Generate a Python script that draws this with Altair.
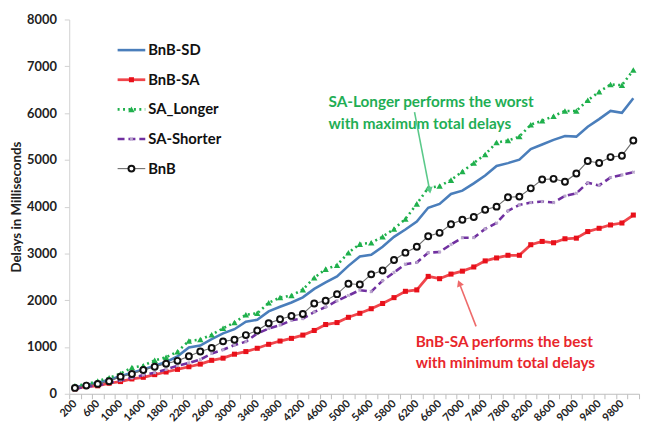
import altair as alt
import pandas as pd

# ---------------- data ----------------
loads = list(range(200, 10001, 200))

bnb_sd = [140, 185, 235, 300, 375, 450, 520, 600, 680, 800,
          990, 1030, 1170, 1290, 1380, 1540, 1580, 1760, 1860, 1950,
          2060, 2241, 2382, 2509, 2734, 2935, 2970, 3143, 3355, 3510,
          3679, 3975, 4059, 4271, 4341, 4497, 4666, 4870, 4930, 5004,
          5229, 5328, 5427, 5511, 5497, 5708, 5871, 6046, 6004, 6315]

bnb_sa = [105, 155, 170, 225, 261, 317, 352, 409, 465, 521,
          578, 634, 715, 761, 846, 902, 972, 1057, 1127, 1184,
          1254, 1353, 1480, 1522, 1634, 1720, 1818, 1930, 2055, 2190,
          2220, 2509, 2460, 2558, 2621, 2710, 2840, 2903, 2960, 2960,
          3186, 3256, 3228, 3313, 3326, 3467, 3537, 3608, 3650, 3820]

sa_longer = [170, 205, 270, 340, 430, 560, 600, 715, 780, 900,
             1130, 1160, 1260, 1400, 1522, 1691, 1719, 1945, 2057, 2100,
             2226, 2480, 2664, 2748, 3016, 3199, 3228, 3355, 3524, 3735,
             4059, 4400, 4440, 4567, 4750, 4932, 5116, 5370, 5412, 5497,
             5751, 5835, 5934, 6046, 6046, 6273, 6455, 6611, 6596, 6920]

sa_shorter = [110, 150, 180, 230, 290, 340, 400, 450, 520, 600,
              660, 730, 860, 940, 1042, 1113, 1289, 1395, 1465, 1571,
              1607, 1748, 1854, 1987, 2100, 2215, 2184, 2417, 2594, 2770,
              2805, 3016, 3030, 3192, 3334, 3334, 3524, 3651, 3910, 4038,
              4087, 4108, 4087, 4228, 4285, 4510, 4454, 4623, 4679, 4736]

bnb = [125, 175, 211, 268, 366, 423, 507, 578, 641, 704,
       803, 902, 980, 1120, 1156, 1254, 1353, 1508, 1592, 1664,
       1706, 1930, 1987, 2129, 2353, 2335, 2552, 2636, 2860, 3016,
       3143, 3368, 3440, 3622, 3721, 3778, 3932, 4000, 4200, 4214,
       4391, 4581, 4594, 4531, 4708, 4975, 4932, 5059, 5089, 5412]

series_names = ["BnB-SD", "BnB-SA", "SA_Longer", "SA-Shorter", "BnB"]
series_values = [bnb_sd, bnb_sa, sa_longer, sa_shorter, bnb]

y_ticks = list(range(0, 8001, 1000))

# annotations (data coordinates)
green_note = ["SA-Longer performs the worst", "with maximum total delays"]
red_note = ["BnB-SA performs the best", "with minimum total delays"]

rows = []
for name, vals in zip(series_names, series_values):
    for x, v in zip(loads, vals):
        rows.append({"series": name, "load": x, "delay": v})
df = pd.DataFrame(rows)

# ---------------- layout ----------------
W, H = 577, 379
FONT = "Lato"
step = W / len(loads)
boundaries = list(range(100, 10101, 200))

x_axis = alt.Axis(
    values=boundaries,
    labelExpr="(datum.value - 100) % 400 == 0 && datum.value < 10000 ? toString(datum.value + 100) : ''",
    labelOffset=step / 2,
    labelAngle=-45,
    labelAlign="right",
    labelBaseline="middle",
    labelOverlap=False,
    labelFont=FONT,
    labelFontSize=11,
    labelFontWeight="bold",
    labelColor="#222222",
    labelPadding=3,
    tickSize=5,
    tickColor="#bdbdbd",
    domainColor="#bdbdbd",
    grid=False,
    title=None,
)
y_axis = alt.Axis(
    values=y_ticks,
    format="d",
    title="Delays in Milliseconds",
    titleFont=FONT,
    titleFontSize=13.5,
    titleFontWeight="bold",
    titleColor="#222222",
    titlePadding=3,
    labelFont=FONT,
    labelFontSize=13,
    labelFontWeight="bold",
    labelColor="#222222",
    labelPadding=8,
    tickSize=5,
    tickColor="#d0d0d0",
    domainColor="#d0d0d0",
    grid=False,
)
xscale = alt.Scale(domain=[100, 10100], nice=False, zero=False)
yscale = alt.Scale(domain=[0, 8000], nice=False)
X = alt.X("load:Q", scale=xscale, axis=x_axis)
Y = alt.Y("delay:Q", scale=yscale, axis=y_axis)

styles = {
    "BnB-SD": dict(color="#4a7ebb", width=2.6, dash=None, marker=None),
    "BnB-SA": dict(color="#f0454b", width=2.8, dash=None,
                   marker=dict(shape="square", size=26, filled=True, color="#e8101a")),
    "SA_Longer": dict(color="#1fb04c", width=2.6, dash=[2, 3.5],
                      marker=dict(shape="triangle-up", size=42, filled=True, color="#1fb04c")),
    "SA-Shorter": dict(color="#7030a0", width=2.6, dash=[7, 4],
                       marker=dict(shape="cross", size=14, filled=True, color="#b9a6cc", angle=45)),
    "BnB": dict(color="#6d6d6d", width=1.1, dash=None,
                marker=dict(shape="circle", size=36, filled=True, color="#ffffff",
                            stroke="#111111", strokeWidth=2.0)),
}

layers = []
for name in series_names:
    st = styles[name]
    base = alt.Chart(df).transform_filter(alt.datum.series == name).encode(x=X, y=Y)
    lk = dict(color=st["color"], strokeWidth=st["width"])
    if st["dash"]:
        lk["strokeDash"] = st["dash"]
    layers.append(base.mark_line(**lk))
    if st["marker"]:
        layers.append(base.mark_point(opacity=1, **st["marker"]))

# ---------------- legend (inside plot, top-left) ----------------
leg_y0, leg_dy = 31, 30
for i, name in enumerate(series_names):
    st = styles[name]
    ldf = pd.DataFrame({"label": [name]})
    yy = leg_y0 + leg_dy * i
    rk = dict(color=st["color"], strokeWidth=st["width"])
    if st["dash"]:
        rk["strokeDash"] = st["dash"]
    layers.append(alt.Chart(ldf).mark_rule(**rk).encode(
        x=alt.value(49), x2=alt.value(77), y=alt.value(yy)))
    if st["marker"]:
        layers.append(alt.Chart(ldf).mark_point(opacity=1, **st["marker"]).encode(
            x=alt.value(63), y=alt.value(yy)))
    layers.append(alt.Chart(ldf).mark_text(
        align="left", baseline="middle", font=FONT, fontSize=15, fontWeight="bold",
        color="#111111").encode(x=alt.value(80), y=alt.value(yy), text="label:N"))

# ---------------- annotations ----------------
ann = pd.DataFrame({
    "load": [4650, 4650, 6180, 6180],
    "delay": [6230, 5770, 1100, 655],
    "text": green_note + red_note,
    "grp": ["g", "g", "r", "r"],
})
for grp, col in [("g", "#1fae55"), ("r", "#e8262c")]:
    layers.append(alt.Chart(ann).transform_filter(alt.datum.grp == grp).mark_text(
        align="left", baseline="middle", font=FONT, fontSize=15.5, fontWeight="bold",
        color=col).encode(x=alt.X("load:Q", scale=xscale, axis=x_axis),
                          y=alt.Y("delay:Q", scale=yscale, axis=y_axis),
                          text="text:N"))

arrows = pd.DataFrame({
    "x1": [6160, 7240], "y1": [6020, 1440],
    "x2": [6426, 6946], "y2": [4348, 2364],
    "ang": [169, 338],
    "col": ["#5bc98a", "#ee6a6a"],
})
for i in range(2):
    a = arrows.iloc[[i]]
    c = a["col"].iloc[0]
    layers.append(alt.Chart(a).mark_rule(color=c, strokeWidth=1.6).encode(
        x=alt.X("x1:Q", scale=xscale, axis=x_axis), y=alt.Y("y1:Q", scale=yscale, axis=y_axis),
        x2="x2:Q", y2="y2:Q"))
    layers.append(alt.Chart(a).mark_point(shape="triangle-up", filled=True, size=55,
                                          color=c, opacity=1,
                                          angle=float(a["ang"].iloc[0])).encode(
        x=alt.X("x2:Q", scale=xscale, axis=x_axis), y=alt.Y("y2:Q", scale=yscale, axis=y_axis)))

chart = alt.layer(*layers).properties(
    width=W, height=H,
    autosize=alt.AutoSizeParams(type="none"),
    padding={"left": 62, "top": 9, "right": 2, "bottom": 30},
    background="white",
).configure_view(stroke=None)

chart.save("out.html", embed_options={"renderer": "svg", "actions": False})
